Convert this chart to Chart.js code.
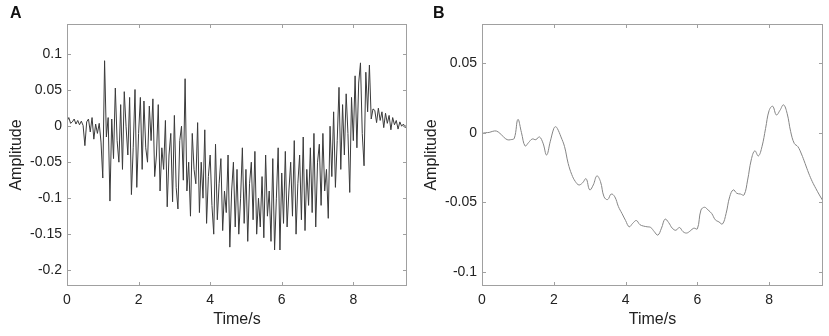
<!DOCTYPE html>
<html>
<head>
  <title>Amplitude vs Time</title>
  <script src="https://cdn.jsdelivr.net/npm/chart.js"></script>
  <style>
    body { margin: 0; background: #fff; }
    #wrap { position: relative; width: 829px; height: 336px; }
    canvas { position: absolute; top: 0; }
    #chartA { left: 0; }
    #chartB { left: 415px; }
    .tag { position: absolute; top: 4px; font: bold 16px "Liberation Sans", Arial, sans-serif; color: #111; }
  </style>
</head>
<body>
  <div id="wrap">
    <canvas id="chartA" width="415" height="336"></canvas>
    <canvas id="chartB" width="414" height="336"></canvas>
    <div class="tag" style="left:10px">A</div>
    <div class="tag" style="left:433px">B</div>
  </div>

  <script>
    // panel A: raw signal
    const timeA = [0,0.05,0.1,0.15,0.2,0.25,0.3,0.35,0.4,0.45,0.5,0.55,0.6,0.65,0.7,0.75,0.8,0.85,0.9,0.95,
      1,1.05,1.1,1.15,1.2,1.25,1.3,1.35,1.4,1.45,1.5,1.55,1.6,1.65,1.7,1.75,1.8,1.85,1.9,1.95,
      2,2.05,2.1,2.15,2.2,2.25,2.3,2.35,2.4,2.45,2.5,2.55,2.6,2.65,2.7,2.75,2.8,2.85,2.9,2.95,
      3,3.05,3.1,3.15,3.2,3.25,3.3,3.35,3.4,3.45,3.5,3.55,3.6,3.65,3.7,3.75,3.8,3.85,3.9,3.95,
      4,4.05,4.1,4.15,4.2,4.25,4.3,4.35,4.4,4.45,4.5,4.55,4.6,4.65,4.7,4.75,4.8,4.85,4.9,4.95,
      5,5.05,5.1,5.15,5.2,5.25,5.3,5.35,5.4,5.45,5.5,5.55,5.6,5.65,5.7,5.75,5.8,5.85,5.9,5.95,
      6,6.05,6.1,6.15,6.2,6.25,6.3,6.35,6.4,6.45,6.5,6.55,6.6,6.65,6.7,6.75,6.8,6.85,6.9,6.95,
      7,7.05,7.1,7.15,7.2,7.25,7.3,7.35,7.4,7.45,7.5,7.55,7.6,7.65,7.7,7.75,7.8,7.85,7.9,7.95,
      8,8.05,8.1,8.15,8.2,8.25,8.3,8.35,8.4,8.45,8.5,8.55,8.6,8.65,8.7,8.75,8.8,8.85,8.9,8.95,
      9,9.05,9.1,9.15,9.2,9.25,9.3,9.35,9.4,9.45,9.5];
    const ampA = [0.007,0.012,0.004,0.006,0.010,0.003,0.008,0.002,0.007,0.001,-0.027,0.006,0.010,-0.008,0.012,-0.018,0.003,-0.010,0.004,-0.022,
      -0.072,0.091,-0.015,0.012,-0.104,0.010,-0.045,0.053,-0.020,-0.050,0.030,-0.060,0.048,0.000,-0.040,0.040,-0.095,-0.030,0.051,-0.085,
      -0.010,0.040,-0.060,0.035,-0.030,-0.050,0.028,-0.020,0.038,-0.070,-0.040,0.030,-0.090,-0.030,-0.060,0.008,-0.112,-0.040,-0.010,-0.105,
      0.015,-0.085,-0.115,-0.020,0.000,-0.075,0.066,-0.090,-0.050,-0.125,-0.010,-0.060,-0.080,0.005,-0.120,-0.050,-0.100,-0.005,-0.135,-0.070,
      -0.040,-0.110,-0.150,-0.025,-0.130,-0.080,-0.045,-0.145,-0.090,-0.120,-0.040,-0.168,-0.090,-0.050,-0.140,-0.060,-0.150,-0.100,-0.030,-0.135,
      -0.060,-0.160,-0.080,-0.050,-0.130,-0.035,-0.150,-0.100,-0.140,-0.070,-0.155,-0.040,-0.125,-0.090,-0.160,-0.045,-0.172,-0.100,-0.030,-0.172,
      -0.065,-0.135,-0.035,-0.140,-0.090,-0.050,-0.125,-0.020,-0.150,-0.080,-0.040,-0.130,-0.015,-0.145,-0.060,-0.110,-0.030,-0.120,-0.010,-0.140,
      -0.050,-0.025,-0.110,-0.010,-0.090,-0.060,-0.128,0.000,-0.070,0.020,-0.085,-0.020,0.054,-0.060,0.030,-0.040,0.045,-0.010,-0.092,0.040,
      -0.020,0.070,-0.030,0.060,0.088,-0.010,-0.055,0.075,0.020,0.085,0.010,0.024,0.022,0.005,0.025,0.008,0.020,-0.002,0.018,0.004,
      0.015,-0.005,0.012,0.002,0.008,-0.004,0.006,0.000,0.003,-0.002,0.004];

    // panel B: filtered signal
    const timeB = [0,0.1,0.2,0.3,0.4,0.5,0.6,0.7,0.8,0.9,1,1.1,1.2,1.3,1.4,1.5,1.6,1.7,1.8,1.9,
      2,2.05,2.1,2.2,2.3,2.4,2.5,2.6,2.7,2.8,2.9,3,3.1,3.2,3.3,3.4,3.5,3.6,3.7,3.8,3.9,
      4,4.1,4.2,4.3,4.4,4.5,4.6,4.7,4.8,4.9,5,5.1,5.2,5.3,5.4,5.5,5.6,5.7,5.8,5.9,
      6,6.1,6.2,6.3,6.4,6.5,6.6,6.7,6.8,6.9,7,7.1,7.2,7.3,7.4,7.5,7.6,7.7,7.8,7.9,
      8,8.1,8.2,8.3,8.4,8.5,8.6,8.7,8.8,8.9,9,9.1,9.2,9.3,9.4,9.5];
    const ampB = [-0.0005,0,0.0002,0.001,0.0012,-0.0005,-0.003,-0.005,-0.005,-0.004,0.0095,0,-0.0095,-0.007,-0.0045,-0.005,-0.003,-0.0075,-0.016,-0.0065,
      0.003,0.0043,0.003,-0.003,-0.010,-0.022,-0.030,-0.035,-0.0375,-0.036,-0.033,-0.041,-0.0375,-0.031,-0.035,-0.046,-0.048,-0.044,-0.046,-0.053,-0.058,
      -0.063,-0.0675,-0.065,-0.063,-0.066,-0.067,-0.0675,-0.068,-0.071,-0.0735,-0.0685,-0.062,-0.0645,-0.0685,-0.070,-0.068,-0.071,-0.072,-0.0705,-0.0685,
      -0.069,-0.0555,-0.0535,-0.0555,-0.058,-0.0625,-0.064,-0.0655,-0.058,-0.046,-0.041,-0.0435,-0.044,-0.0447,-0.034,-0.0196,-0.013,-0.0167,-0.010,0.003,
      0.016,0.019,0.0127,0.016,0.020,0.0139,0.0007,-0.0077,-0.010,-0.0153,-0.022,-0.029,-0.035,-0.040,-0.0447,-0.049];

    const xTicks = [0, 2, 4, 6, 8];
    const xLabels = ["0", "2", "4", "6", "8"];
    const yTicksA = [0.1, 0.05, 0, -0.05, -0.1, -0.15, -0.2];
    const yLabelsA = ["0.1", "0.05", "0", "-0.05", "-0.1", "-0.15", "-0.2"];
    const yTicksB = [0.05, 0, -0.05, -0.1];
    const yLabelsB = ["0.05", "0", "-0.05", "-0.1"];

    const FONT = '"Liberation Sans", Arial, sans-serif';
    const FRAME = "#a0a0a0";

    // MATLAB style box with inward ticks on all four sides
    const boxPlugin = {
      id: "box",
      afterDraw(chart) {
        const { ctx, chartArea: a, scales } = chart;
        ctx.save();
        ctx.strokeStyle = FRAME;
        ctx.lineWidth = 1;
        ctx.strokeRect(a.left + 0.5, a.top + 0.5, a.right - a.left - 1, a.bottom - a.top - 1);
        ctx.beginPath();
        scales.x.ticks.forEach(t => {
          const px = Math.round(scales.x.getPixelForValue(t.value)) + 0.5;
          ctx.moveTo(px, a.bottom); ctx.lineTo(px, a.bottom - 4);
          ctx.moveTo(px, a.top); ctx.lineTo(px, a.top + 4);
        });
        scales.y.ticks.forEach(t => {
          const py = Math.round(scales.y.getPixelForValue(t.value)) + 0.5;
          ctx.moveTo(a.left, py); ctx.lineTo(a.left + 4, py);
          ctx.moveTo(a.right, py); ctx.lineTo(a.right - 4, py);
        });
        ctx.stroke();
        ctx.restore();
      }
    };

    function makeChart(id, times, amps, yMin, yMax, yTicks, yLabels, lineColor, tension, padRight) {
      const ctx = document.getElementById(id).getContext("2d");
      return new Chart(ctx, {
        type: "line",
        data: {
          datasets: [{
            data: times.map((t, i) => ({ x: t, y: amps[i] })),
            borderColor: lineColor,
            borderWidth: 1,
            pointRadius: 0,
            tension: tension,
            fill: false
          }]
        },
        options: {
          responsive: false,
          animation: false,
          layout: { padding: { left: 7, right: padRight, top: 24, bottom: 0 } },
          plugins: { legend: { display: false }, tooltip: { enabled: false } },
          scales: {
            x: {
              type: "linear",
              min: 0,
              max: 9.5,
              grid: { display: false, drawTicks: false },
              border: { display: false },
              afterBuildTicks: s => { s.ticks = xTicks.map(v => ({ value: v })); },
              afterFit: s => { s.height = 50; },
              ticks: {
                padding: 6,
                color: "#222",
                font: { family: FONT, size: 14 },
                maxRotation: 0,
                callback: v => xLabels[xTicks.indexOf(v)]
              },
              title: {
                display: true,
                text: "Time/s",
                color: "#222",
                font: { family: FONT, size: 16 },
                padding: { top: 0, bottom: 7 }
              }
            },
            y: {
              min: yMin,
              max: yMax,
              grid: { display: false, drawTicks: false },
              border: { display: false },
              afterBuildTicks: s => { s.ticks = yTicks.map(v => ({ value: v })); },
              afterFit: s => { s.width = 60; },
              ticks: {
                padding: 5,
                color: "#222",
                font: { family: FONT, size: 14 },
                callback: v => yLabels[yTicks.indexOf(v)]
              },
              title: {
                display: true,
                text: "Amplitude",
                color: "#222",
                font: { family: FONT, size: 16 },
                padding: { top: 0, bottom: 0 }
              }
            }
          }
        },
        plugins: [boxPlugin]
      });
    }

    makeChart("chartA", timeA, ampA, -0.222, 0.142, yTicksA, yLabelsA, "#3a3a3a", 0, 8);
    makeChart("chartB", timeB, ampB, -0.11, 0.078, yTicksB, yLabelsB, "#858585", 0.4, 6);
  </script>
</body>
</html>
